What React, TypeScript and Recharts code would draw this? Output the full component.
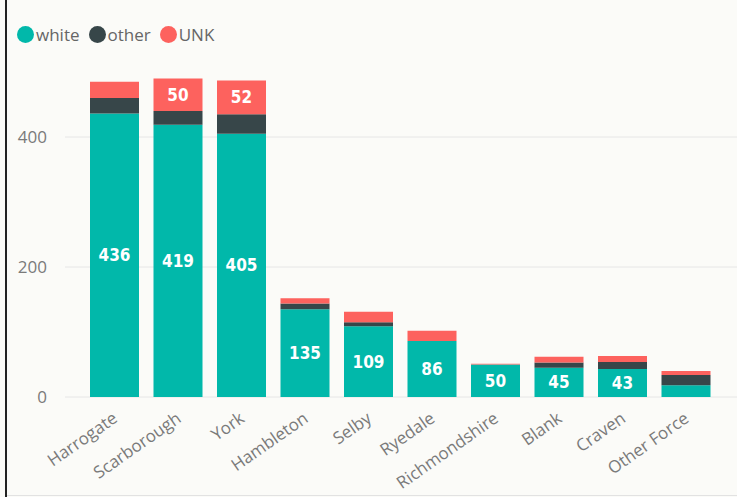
import { BarChart, Bar, XAxis, YAxis, CartesianGrid, LabelList } from 'recharts';

const CATEGORIES = [
  'Harrogate',
  'Scarborough',
  'York',
  'Hambleton',
  'Selby',
  'Ryedale',
  'Richmondshire',
  'Blank',
  'Craven',
  'Other Force',
];
const WHITE = [436, 419, 405, 135, 109, 86, 50, 45, 43, 18];
const OTHER = [24, 21, 30, 9, 6, 0, 0, 8, 11, 16];
const UNK = [25, 50, 52, 8, 16, 16, 1, 9, 9, 6];
const Y_TICKS = [0, 200, 400];
const Y_MAX = 500;

const SERIES = [
  { key: 'white', name: 'white', color: '#01B8AA' },
  { key: 'other', name: 'other', color: '#374649' },
  { key: 'unk', name: 'UNK', color: '#FD625E' },
];

const FONT = '"Open Sans", "Noto Sans", sans-serif';

const data = CATEGORIES.map((name, i) => ({
  name,
  white: WHITE[i],
  other: OTHER[i],
  unk: UNK[i],
}));

// only label segments tall enough to hold the number
const SegmentLabel = (props: any) => {
  const { x, y, width, height, value } = props;
  if (!value || height < 22) return null;
  return (
    <text
      x={x + width / 2}
      y={y + height / 2}
      dy="0.36em"
      textAnchor="middle"
      fill="#fff"
      fontFamily='"DejaVu Sans Condensed", Roboto, sans-serif'
      fontWeight={700}
      fontSize={17}
    >
      {value}
    </text>
  );
};

const CategoryTick = (props: any) => {
  const { x, y, payload } = props;
  return (
    <text
      transform={`translate(${x - 3},${y + 6}) rotate(-35)`}
      textAnchor="end"
      dy="0.71em"
      fill="#7a7a7a"
      fontFamily={FONT}
      fontSize={17}
    >
      {payload.value}
    </text>
  );
};

// grid only at the real ticks (no line at the domain top)
const gridRows = ({ offset }: any) =>
  Y_TICKS.map((t) => offset.top + offset.height * (1 - t / Y_MAX));

export default function App() {
  return (
    <div
      style={{
        position: 'fixed',
        left: 0,
        top: 0,
        width: 737,
        height: 497,
        background: '#FBFBF8',
        overflow: 'hidden',
      }}
    >
      <div style={{ position: 'absolute', left: 5, top: 0, width: 2, height: 497, background: '#222' }} />
      <div style={{ position: 'absolute', left: 7, top: 495, width: 730, height: 1, background: '#E2E2E2' }} />
      <div
        style={{
          position: 'absolute',
          left: 17,
          top: 23,
          display: 'flex',
          alignItems: 'center',
          fontFamily: FONT,
          fontSize: 17,
          color: '#666',
        }}
      >
        {SERIES.map((s) => (
          <div key={s.key} style={{ display: 'flex', alignItems: 'center', marginRight: 9 }}>
            <span
              style={{
                width: 17,
                height: 17,
                borderRadius: '50%',
                background: s.color,
                display: 'inline-block',
                marginRight: 2,
              }}
            />
            <span>{s.name}</span>
          </div>
        ))}
      </div>
      <BarChart
        width={737}
        height={497}
        data={data}
        margin={{ top: 72, right: 0, bottom: 0, left: 5 }}
        barSize={49}
        style={{ position: 'absolute', left: 0, top: 0 }}
      >
        <CartesianGrid
          horizontal
          vertical={false}
          stroke="#E6E6E6"
          horizontalCoordinatesGenerator={gridRows}
        />
        <XAxis
          dataKey="name"
          interval={0}
          axisLine={false}
          tickLine={false}
          height={100}
          padding={{ left: 18, right: 19 }}
          tick={<CategoryTick />}
        />
        <YAxis
          width={60}
          domain={[0, Y_MAX]}
          ticks={Y_TICKS}
          axisLine={false}
          tickLine={false}
          tickMargin={12}
          tick={{ fill: '#7a7a7a', fontSize: 17, fontFamily: FONT }}
        />
        {SERIES.map((s) => (
          <Bar key={s.key} dataKey={s.key} stackId="a" fill={s.color} isAnimationActive={false}>
            <LabelList dataKey={s.key} content={<SegmentLabel />} />
          </Bar>
        ))}
      </BarChart>
    </div>
  );
}
